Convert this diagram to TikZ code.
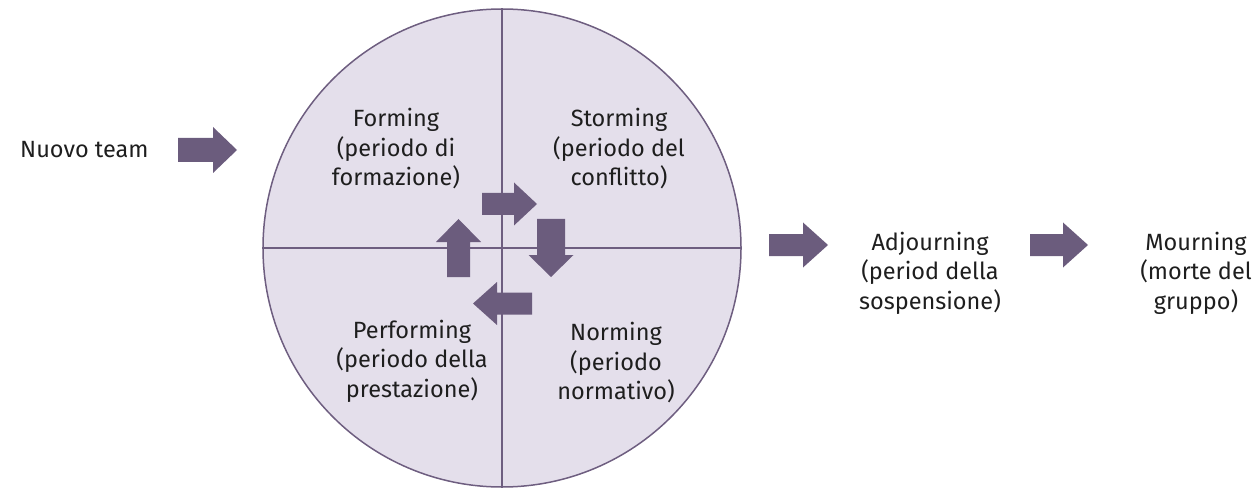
\documentclass[tikz,border=0pt]{standalone}
\usepackage{fontspec}
\setmainfont{Fira Sans}
\definecolor{circfill}{RGB}{228,223,235}
\definecolor{circline}{RGB}{110,94,128}
\definecolor{arrowc}{RGB}{107,92,125}
\definecolor{txt}{RGB}{30,30,30}
\tikzset{
  lbl/.style={align=center, text=txt, font=\fontsize{23.5}{29.5}\selectfont, inner sep=0pt},
  pics/fatarrow/.style args={#1/#2/#3/#4}{code={
    \fill[arrowc] (0,{-#2/2}) -- ({#1-#3},{-#2/2}) -- ({#1-#3},{-#4/2}) -- (#1,0)
      -- ({#1-#3},{#4/2}) -- ({#1-#3},{#2/2}) -- (0,{#2/2}) -- cycle;}}
}
\begin{document}
\begin{tikzpicture}[x=1pt,y=1pt]
\useasboundingbox (0,0) rectangle (1258,-489);
% circle and quadrants
\node[circle, draw=circline, fill=circfill, line width=1.5pt, minimum size=478pt, inner sep=0pt] (c) at (502,-248) {};
\draw[circline, line width=1.5pt] (c.north) -- (c.south);
\draw[circline, line width=1.5pt] (c.west) -- (c.east);
% inner arrows
\pic at (482,-204) {fatarrow=55/22/23/43};
\pic[rotate=-90] at (551,-219) {fatarrow=58/28/22/45};
\pic[rotate=180] at (532,-303.5) {fatarrow=59/22/24/43};
\pic[rotate=90] at (458.5,-277) {fatarrow=58/23/23/45};
% outer arrows
\pic at (178,-150) {fatarrow=59/24/24/46};
\pic at (769,-245) {fatarrow=59/22/25/45};
\pic at (1030,-245) {fatarrow=58/22/25/45};
% labels
\node[lbl, anchor=west] (nuovo) at (20,-150) {Nuovo team};
\node[lbl] (forming) at (396,-149) {Forming\\(periodo di\\formazione)};
\node[lbl] (storming) at (619,-149) {Storming\\(periodo del\\conflitto)};
\node[lbl] (performing) at (412,-361) {Performing\\(periodo della\\prestazione)};
\node[lbl] (norming) at (616,-363) {Norming\\(periodo\\normativo)};
\node[lbl] (adjourning) at (930,-273) {Adjourning\\(period della\\sospensione)};
\node[lbl] (mourning) at (1196,-273) {Mourning\\(morte del\\gruppo)};
\end{tikzpicture}
\end{document}
